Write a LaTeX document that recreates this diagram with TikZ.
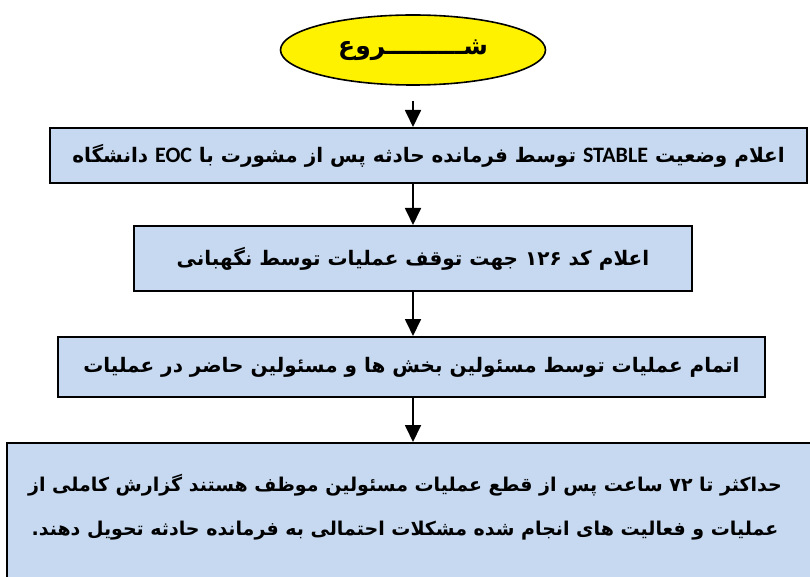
\documentclass[tikz,border=0pt]{standalone}
\usepackage{fontspec}
\newfontfamily\fa[Script=Arabic]{DejaVu Sans}
\newfontfamily\lat{Carlito}
\TeXXeTstate=1
\usetikzlibrary{shapes.geometric,arrows.meta}
\definecolor{boxblue}{RGB}{198,217,240}

\begin{document}
\begin{tikzpicture}[x=1pt, y=-1pt,
	stepbox/.style={draw, line width=2pt, fill=boxblue, font=\fa\bfseries\fontsize{20}{44}\selectfont, align=center, inner sep=0pt},
	flow/.style={-{Triangle[length=17pt,width=16pt]}, line width=1.8pt}]
	\useasboundingbox (0,0) rectangle (810,577);

	\node [draw, ellipse, line width=1.6pt, fill=yellow, minimum width=265pt, minimum height=70pt, font=\fa\bfseries\fontsize{25}{30}\selectfont] (start) at (413,50) {\beginR شـــــــــروع\endR};
	\node [stepbox, minimum width=757pt, minimum height=55pt] (report) at (428.5,155.5) {\beginR اعلام وضعیت \beginL{\lat\bfseries\fontsize{22}{26}\selectfont STABLE}\endL{} توسط فرمانده حادثه پس از مشورت با \beginL{\lat\bfseries\fontsize{22}{26}\selectfont EOC}\endL{} دانشگاه\endR};
	\node [stepbox, minimum width=558pt, minimum height=65pt] (code) at (413,258.5) {\beginR اعلام کد ۱۲۶ جهت توقف عملیات توسط نگهبانی\endR};
	\node [stepbox, minimum width=707pt, minimum height=60pt] (finish) at (411.5,367) {\beginR اتمام عملیات توسط مسئولین بخش ها و مسئولین حاضر در عملیات\endR};
	\node [stepbox, minimum width=805pt, minimum height=142pt] (final) at (409.5,514) {};
	\node [font=\fa\bfseries\fontsize{19}{44}\selectfont, align=center] (finaltext) at (405,507) {\beginR حداکثر تا ۷۲ ساعت پس از قطع عملیات مسئولین موظف هستند گزارش کاملی از\endR\\ \beginR عملیات و فعالیت های انجام شده مشکلات احتمالی به فرمانده حادثه تحویل دهند.\endR};

	\draw [flow, shorten <=15pt] (start.south) -- (start.south |- report.north);
	\draw [flow] (start.south |- report.south) -- (start.south |- code.north);
	\draw [flow] (start.south |- code.south) -- (start.south |- finish.north);
	\draw [flow] (start.south |- finish.south) -- (start.south |- final.north);
\end{tikzpicture}
\end{document}
